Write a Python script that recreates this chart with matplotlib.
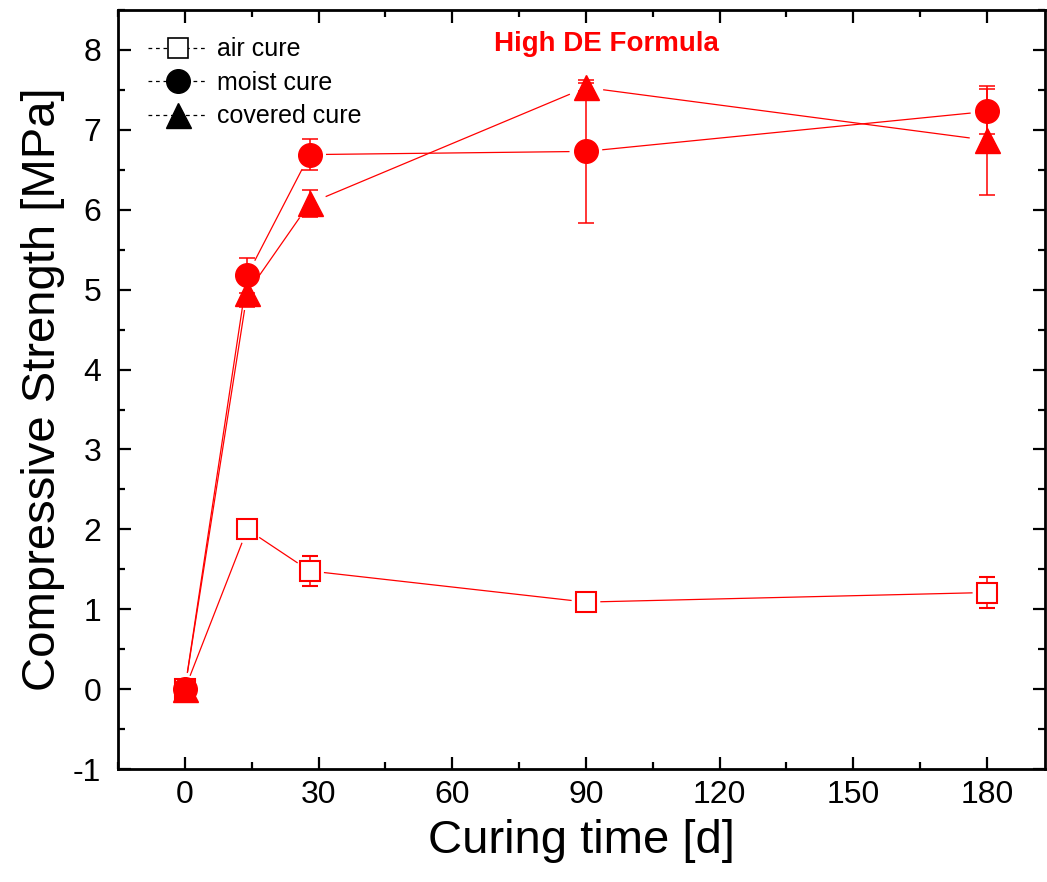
import matplotlib
matplotlib.use("Agg")
import matplotlib.pyplot as plt
from matplotlib.lines import Line2D
import numpy as np

plt.rcParams['font.family'] = ['Liberation Sans', 'DejaVu Sans']
plt.rcParams['axes.unicode_minus'] = False

# Data
days = [0, 14, 28, 90, 180]
air = [0.0, 2.0, 1.48, 1.09, 1.21]
air_err = [0.03, 0.06, 0.19, 0.06, 0.2]
moist = [0.0, 5.18, 6.69, 6.73, 7.23]
moist_err = [0.03, 0.22, 0.19, 0.89, 0.28]
covered = [0.0, 4.96, 6.08, 7.53, 6.87]
covered_err = [0.03, 0.18, 0.17, 0.05, 0.68]
labels = ['air cure', 'moist cure', 'covered cure']
xticks = [0, 30, 60, 90, 120, 150, 180]
yticks = [-1, 0, 1, 2, 3, 4, 5, 6, 7, 8]

fig = plt.figure(figsize=(10.47, 8.82), dpi=100)
ax = fig.add_axes([0.1127, 0.128, 0.8853, 0.8607])
ax.set_xlim(-15, 193)
ax.set_ylim(-1, 8.5)

red = '#ff0000'


def gapped_line(xs, ys, gap_px):
    """Draw connecting segments leaving a gap around each marker (Origin style)."""
    pts = ax.transData.transform(np.column_stack([xs, ys]))
    inv = ax.transData.inverted()
    for p0, p1 in zip(pts[:-1], pts[1:]):
        d = p1 - p0
        L = np.hypot(*d)
        if L <= 2 * gap_px:
            continue
        u = d / L
        a = inv.transform(p0 + u * gap_px)
        b = inv.transform(p1 - u * gap_px)
        ax.plot([a[0], b[0]], [a[1], b[1]], color=red, lw=0.9, zorder=2)


common = dict(color=red, ls='none', elinewidth=1.1, capsize=6, capthick=1.1)
gapped_line(days, air, 15)
gapped_line(days, moist, 17)
gapped_line(days, covered, 18)
ax.errorbar(days, air, yerr=air_err, marker='s', ms=14, mfc='white', mec=red,
            mew=1.5, zorder=3, **common)
ax.errorbar(days, moist, yerr=moist_err, marker='o', ms=17, mfc=red, mec=red,
            zorder=4, **common)
ax.errorbar(days, covered, yerr=covered_err, marker='^', ms=18, mfc=red, mec=red,
            zorder=5, **common)

ax.set_xticks(xticks)
ax.set_yticks(yticks)
ax.set_xticks(np.arange(-15, 193, 15), minor=True)
ax.set_yticks(np.arange(-1, 8.51, 0.5), minor=True)
ax.tick_params(which='both', direction='in', top=True, right=True, labelsize=23)
ax.tick_params(which='major', length=9, width=1.6)
ax.tick_params(which='minor', length=5, width=1.6)
ax.tick_params(axis='y', pad=12)
ax.tick_params(axis='x', pad=8)
for s in ax.spines.values():
    s.set_linewidth(2.0)

ax.set_xlabel('Curing time [d]', fontsize=34, labelpad=6)
ax.set_ylabel('Compressive Strength [MPa]', fontsize=34, labelpad=6)

ax.text(0.527, 0.955, 'High DE Formula', transform=ax.transAxes, color=red,
        fontsize=20, fontweight='bold', ha='center', va='center')

handles = [
    Line2D([], [], color='black', lw=0.9, ls=(0, (3, 3)), marker='s', ms=15,
           mfc='white', mec='black', mew=1.2),
    Line2D([], [], color='black', lw=0.9, ls=(0, (3, 3)), marker='o', ms=17,
           mfc='black', mec='black'),
    Line2D([], [], color='black', lw=0.9, ls=(0, (3, 3)), marker='^', ms=18,
           mfc='black', mec='black'),
]
ax.legend(handles, labels, loc='upper left', frameon=False, fontsize=18,
          handlelength=2.4, handletextpad=0.35, labelspacing=0.38,
          borderaxespad=0.0, bbox_to_anchor=(0.022, 0.977))

fig.savefig('out.png', dpi=100)
